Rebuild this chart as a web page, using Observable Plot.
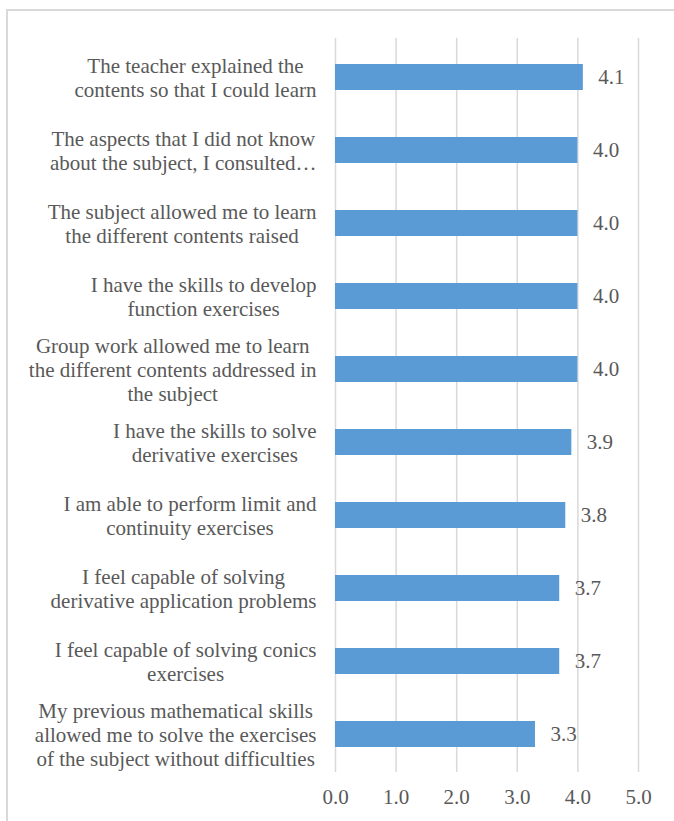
<!DOCTYPE html>
<html><head><meta charset="utf-8">
<script src="https://cdn.jsdelivr.net/npm/d3@7"></script>
<script src="https://cdn.jsdelivr.net/npm/@observablehq/plot@0.6"></script>
<style>
html,body{margin:0;padding:0;background:#fff;overflow:hidden;}
#wrap{position:relative;width:674px;height:821px;overflow:hidden;}
#border{position:absolute;left:6px;top:9px;width:720px;height:900px;border:2px solid #d9d9d9;box-sizing:border-box;}
#chart{position:absolute;left:0;top:0;}
#chart svg text{font-family:'Liberation Serif','Times New Roman',serif;}
</style></head><body>
<div id="wrap"><div id="border"></div><div id="chart"></div></div>
<script>
const categories = [
  "The teacher explained the\ncontents so that I could learn",
  "The aspects that I did not know\nabout the subject, I consulted…",
  "The subject allowed me to learn\nthe different contents raised",
  "I have the skills to develop\nfunction exercises",
  "Group work allowed me to learn\nthe different contents addressed in\nthe subject",
  "I have the skills to solve\nderivative exercises",
  "I am able to perform limit and\ncontinuity exercises",
  "I feel capable of solving\nderivative application problems",
  "I feel capable of solving conics\nexercises",
  "My previous mathematical skills\nallowed me to solve the exercises\nof the subject without difficulties"
];
const values = [4.09, 4.0, 4.0, 4.0, 4.0, 3.9, 3.8, 3.7, 3.7, 3.3];
const valueLabels = ["4.1", "4.0", "4.0", "4.0", "4.0", "3.9", "3.8", "3.7", "3.7", "3.3"];
const xTicks = [0, 1, 2, 3, 4, 5];
const xTickLabels = ["0.0", "1.0", "2.0", "3.0", "4.0", "5.0"];

const data = categories.map((c, i) => ({category: c, value: values[i], label: valueLabels[i]}));

const FS = 21;
const TEXT = "#595959";
const ctx = document.createElement("canvas").getContext("2d");
ctx.font = `${FS}px 'Liberation Serif'`;
const blockWidth = c => Math.max(...c.split("\n").map(l => ctx.measureText(l).width));

const chart = Plot.plot({
  width: 674,
  height: 821,
  marginTop: 38,
  marginBottom: 49,
  marginLeft: 335,
  marginRight: 36,
  style: "font-family: 'Liberation Serif', 'Times New Roman', serif; font-size: 21px; color: #595959; background: transparent;",
  x: {domain: [0, 5], label: null},
  y: {domain: categories, paddingInner: 0.645, paddingOuter: 0.3225, axis: null, label: null},
  marks: [
    Plot.gridX(xTicks, {stroke: "#d9d9d9", strokeOpacity: 1, strokeWidth: 1.5}),
    Plot.barX(data, {x: "value", y: "category", fill: "#5b9bd5"}),
    Plot.text(data, {x: "value", y: "category", text: "label", dx: 15, textAnchor: "start", fontSize: FS, fill: TEXT}),
    Plot.axisX(xTicks, {tickSize: 0, tickPadding: 17, fontSize: FS, label: null, fill: TEXT,
      tickFormat: d => xTickLabels[xTicks.indexOf(d)]}),
    ...categories.map(c => Plot.text([c], {
      y: d => d, text: d => d, frameAnchor: "left", textAnchor: "middle",
      dx: -19 - blockWidth(c) / 2, lineHeight: 1.13, fontSize: FS, fill: TEXT
    }))
  ]
});
document.getElementById("chart").appendChild(chart);
</script>
</body></html>
